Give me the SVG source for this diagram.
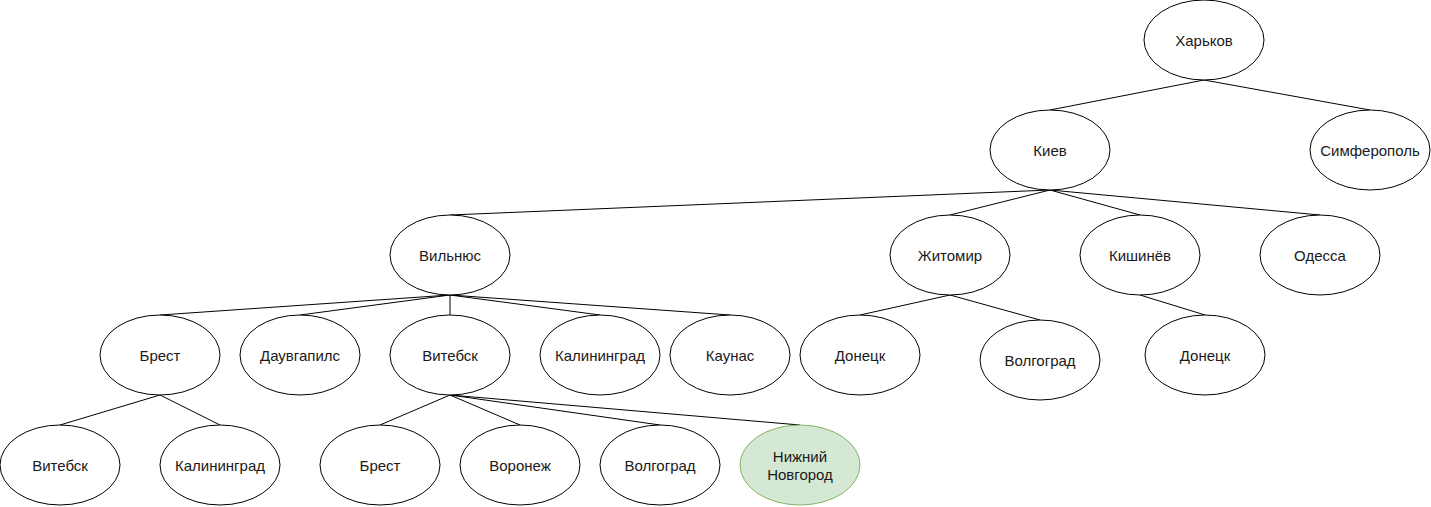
<svg xmlns="http://www.w3.org/2000/svg" width="1431" height="507" viewBox="0 0 1431 507">
<style>
.n ellipse{fill:#ffffff;stroke:#000000;stroke-width:1}
.n text{font-family:"Liberation Sans",Arial,sans-serif;font-size:15px;fill:#1a1a1a;text-anchor:middle}
#n-nn ellipse{fill:#d5e8d4;stroke:#82b366}
#edges line{stroke:#000000;stroke-width:1;fill:none}
</style>
<rect width="1431" height="507" fill="#ffffff"/>
<g id="edges">
<line x1="1204" y1="80" x2="1050" y2="110"/>
<line x1="1204" y1="80" x2="1370" y2="110"/>
<line x1="1050" y1="190" x2="450" y2="215"/>
<line x1="1050" y1="190" x2="950" y2="215"/>
<line x1="1050" y1="190" x2="1140" y2="215"/>
<line x1="1050" y1="190" x2="1320" y2="215"/>
<line x1="450" y1="295" x2="160" y2="315"/>
<line x1="450" y1="295" x2="300" y2="315"/>
<line x1="450" y1="295" x2="450" y2="315"/>
<line x1="450" y1="295" x2="600" y2="315"/>
<line x1="450" y1="295" x2="730" y2="315"/>
<line x1="950" y1="295" x2="860" y2="315"/>
<line x1="950" y1="295" x2="1040" y2="320"/>
<line x1="1140" y1="295" x2="1205" y2="315"/>
<line x1="160" y1="395" x2="60" y2="425"/>
<line x1="160" y1="395" x2="220" y2="425"/>
<line x1="450" y1="395" x2="380" y2="425"/>
<line x1="450" y1="395" x2="520" y2="425"/>
<line x1="450" y1="395" x2="660" y2="425"/>
<line x1="450" y1="395" x2="800" y2="425"/>
</g>
<g id="n-kharkov" class="n"><ellipse cx="1204" cy="40" rx="60" ry="40"/><text x="1204" y="45.5">Харьков</text></g>
<g id="n-kiev" class="n"><ellipse cx="1050" cy="150" rx="60" ry="40"/><text x="1050" y="155.5">Киев</text></g>
<g id="n-simferopol" class="n"><ellipse cx="1370" cy="150" rx="60" ry="40"/><text x="1370" y="155.5">Симферополь</text></g>
<g id="n-vilnius" class="n"><ellipse cx="450" cy="255" rx="60" ry="40"/><text x="450" y="260.5">Вильнюс</text></g>
<g id="n-zhitomir" class="n"><ellipse cx="950" cy="255" rx="60" ry="40"/><text x="950" y="260.5">Житомир</text></g>
<g id="n-kishinev" class="n"><ellipse cx="1140" cy="255" rx="60" ry="40"/><text x="1140" y="260.5">Кишинёв</text></g>
<g id="n-odessa" class="n"><ellipse cx="1320" cy="255" rx="60" ry="40"/><text x="1320" y="260.5">Одесса</text></g>
<g id="n-brest1" class="n"><ellipse cx="160" cy="355" rx="60" ry="40"/><text x="160" y="360.5">Брест</text></g>
<g id="n-daugavpils" class="n"><ellipse cx="300" cy="355" rx="60" ry="40"/><text x="300" y="360.5">Даувгапилс</text></g>
<g id="n-vitebsk1" class="n"><ellipse cx="450" cy="355" rx="60" ry="40"/><text x="450" y="360.5">Витебск</text></g>
<g id="n-kaliningrad1" class="n"><ellipse cx="600" cy="355" rx="60" ry="40"/><text x="600" y="360.5">Калининград</text></g>
<g id="n-kaunas" class="n"><ellipse cx="730" cy="355" rx="60" ry="40"/><text x="730" y="360.5">Каунас</text></g>
<g id="n-donetsk1" class="n"><ellipse cx="860" cy="355" rx="60" ry="40"/><text x="860" y="360.5">Донецк</text></g>
<g id="n-volgograd1" class="n"><ellipse cx="1040" cy="360" rx="60" ry="40"/><text x="1040" y="365.5">Волгоград</text></g>
<g id="n-donetsk2" class="n"><ellipse cx="1205" cy="355" rx="60" ry="40"/><text x="1205" y="360.5">Донецк</text></g>
<g id="n-vitebsk2" class="n"><ellipse cx="60" cy="465" rx="60" ry="40"/><text x="60" y="470.5">Витебск</text></g>
<g id="n-kaliningrad2" class="n"><ellipse cx="220" cy="465" rx="60" ry="40"/><text x="220" y="470.5">Калининград</text></g>
<g id="n-brest2" class="n"><ellipse cx="380" cy="465" rx="60" ry="40"/><text x="380" y="470.5">Брест</text></g>
<g id="n-voronezh" class="n"><ellipse cx="520" cy="465" rx="60" ry="40"/><text x="520" y="470.5">Воронеж</text></g>
<g id="n-volgograd2" class="n"><ellipse cx="660" cy="465" rx="60" ry="40"/><text x="660" y="470.5">Волгоград</text></g>
<g id="n-nn" class="n"><ellipse cx="800" cy="465" rx="60" ry="40"/><text x="800" y="461.5">Нижний</text><text x="800" y="479.5">Новгород</text></g>
</svg>
